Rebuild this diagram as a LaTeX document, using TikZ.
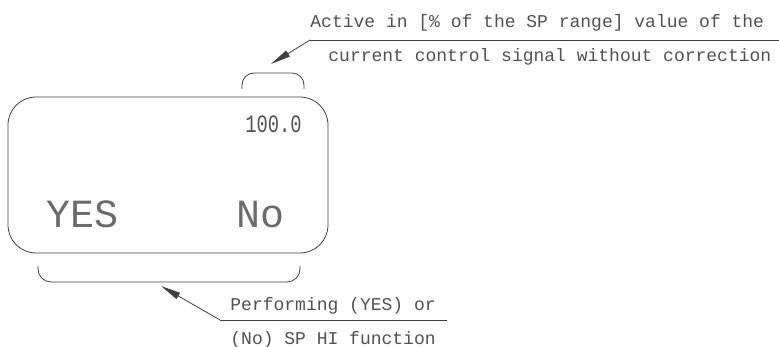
\documentclass[tikz,border=0pt]{standalone}
\usepackage{fontspec}
\setmonofont{Liberation Mono}
\usetikzlibrary{positioning}
\usetikzlibrary{arrows.meta}

\begin{document}
\begin{tikzpicture}[
  x=1pt, y=-1pt,
  line width=0.8pt, color=black!75,
  every node/.append style={inner sep=0pt, text=black!68},
  display/.style={draw, rounded corners=28pt, minimum width=320pt, minimum height=156pt},
  note/.style={font=\ttfamily\fontsize{18}{18}\selectfont, anchor=base west},
  bigtext/.style={font=\ttfamily\fontsize{40}{40}\selectfont, anchor=base west, text=black!58},
  leader/.style={-{Triangle[length=20pt,width=7pt]}},
]
  \useasboundingbox (0,0) rectangle (779,347);

  % display
  \node[display] (disp) at (168,175) {};
  \node[anchor=base west] (val) at (245,133)
    {\scalebox{0.75}[1]{\ttfamily\fontsize{25}{25}\selectfont 100.0}};
  \node[bigtext] (yes) at (46,228) {YES};
  \node[bigtext] (no) at (236,228) {No};

  % brackets
  \draw[rounded corners=12pt] (242,89) -- (242,73) -- (304,73) -- (304,89);
  \draw[rounded corners=13pt] (38,266) -- (38,282) -- (300,282) -- (300,266);

  % upper note
  \node[note] (act) at (310,28) {Active in [\% of the SP range] value of the};
  \node[note] (cur) at (328,62) {current control signal without correction};
  \coordinate (ulA) at (310,40);
  \coordinate (ulAend) at (779,40);
  \coordinate (tipA) at (271,64);
  \draw (ulA) -- (ulAend);
  \draw[leader] (ulA) -- (tipA);

  % lower note
  \node[note] (perf) at (230,310) {Performing (YES) or};
  \node[note] (func) at (230,344) {(No) SP HI function};
  \coordinate (ulB) at (220,320);
  \coordinate (ulBend) at (447,320);
  \coordinate (tipB) at (161,286);
  \draw (ulB) -- (ulBend);
  \draw[leader] (ulB) -- (tipB);
\end{tikzpicture}
\end{document}
